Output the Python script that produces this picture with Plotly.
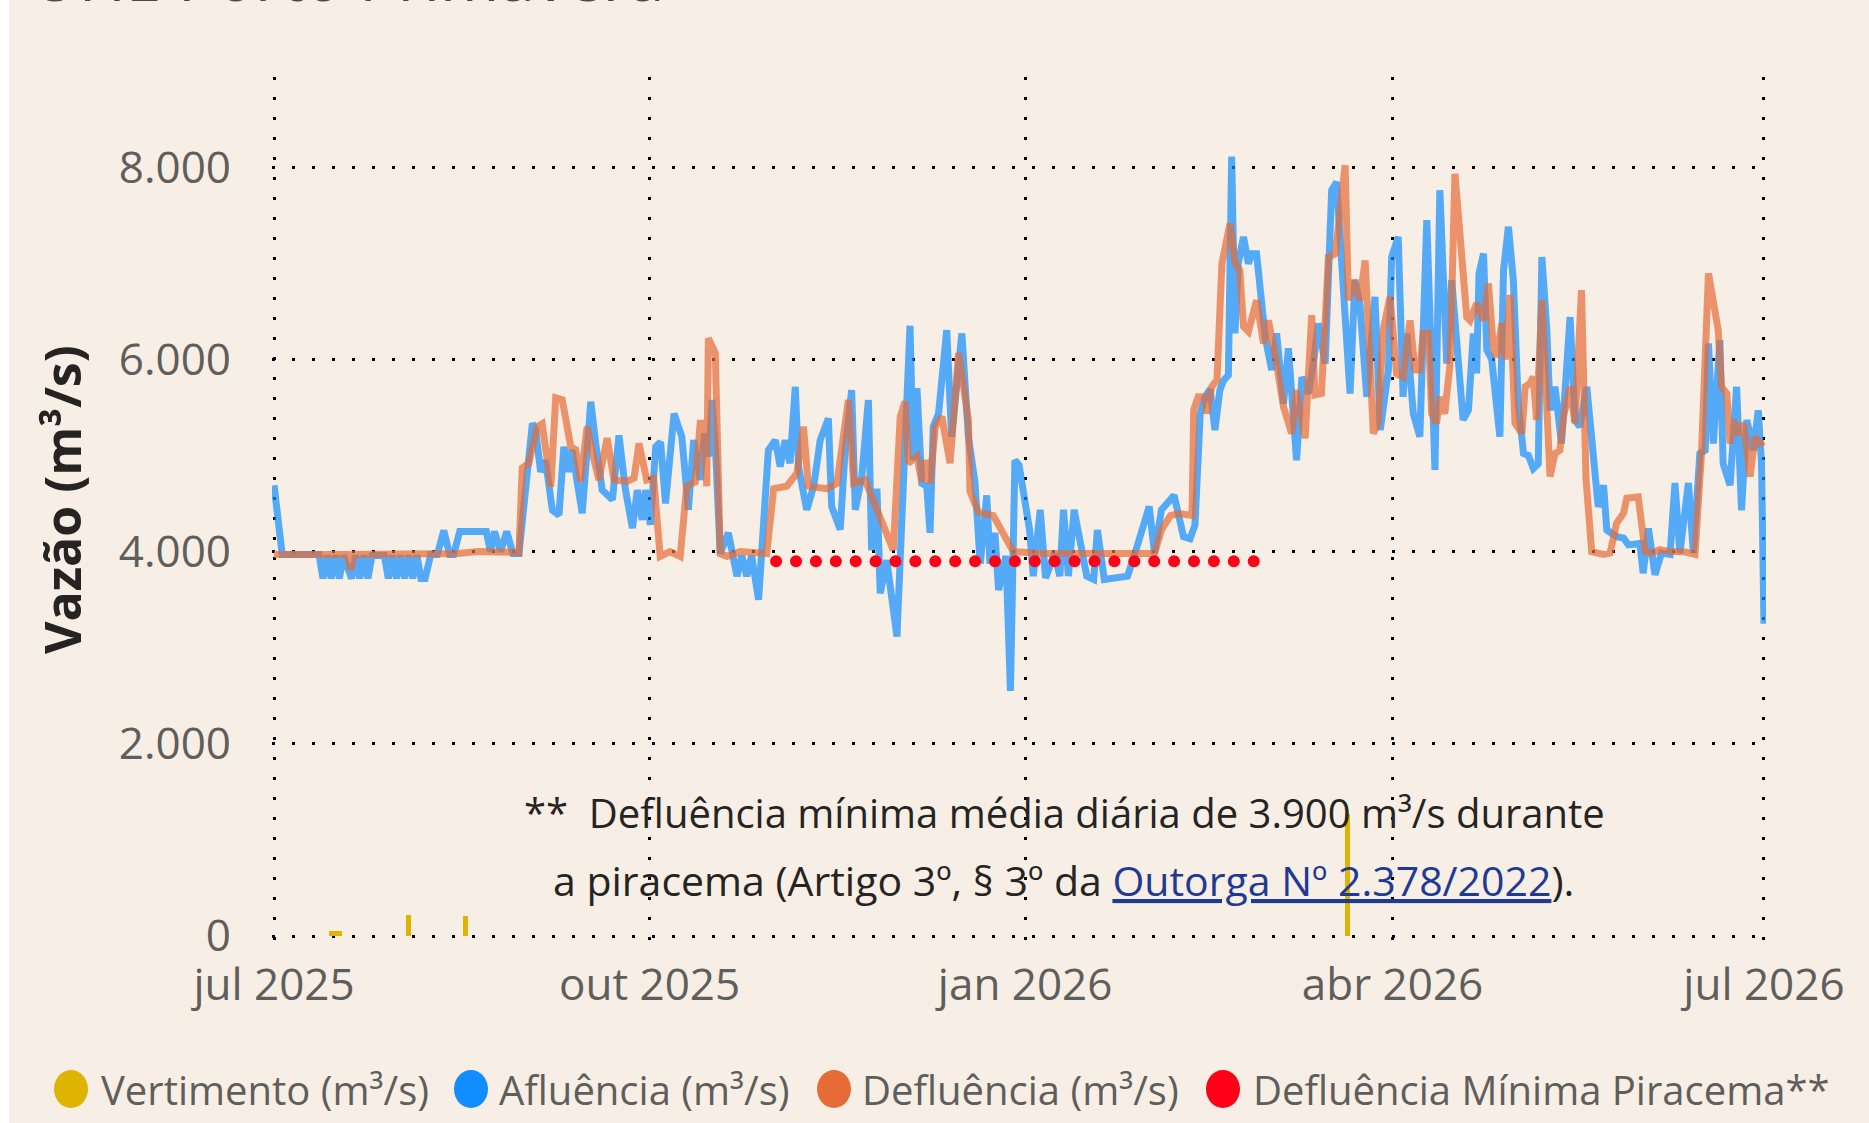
import pandas as pd
import plotly.graph_objects as go

# ---------------- data ----------------
START = "2025-07-01"          # day 0 of the series below

# Afluência (m3/s): day offset from START, value
afl_day = [0, 2, 11, 12, 13, 14, 15, 16, 17, 19, 20, 21, 22, 23, 24, 27, 28, 29, 30, 31,
           32, 33, 34, 35, 36, 37, 38.4, 40, 41.6, 43, 44, 45.5, 52, 53, 54, 55.5, 57, 58.5, 60,
           62, 63.3, 64.1, 65.3, 66.5, 68.2, 69.8, 71, 72.2, 73, 75.5, 77.6, 78.8, 80.4, 82.9,
           84.5, 86.1, 87.8, 89, 90.2, 91, 92.2, 93.5, 94.7, 95.9, 98, 99.9, 101.5, 102.8,
           104.4, 105.5, 106.5, 107.3, 108.2, 109.3, 111.3, 113.4, 114.6, 115.8, 117, 118.7,
           121.1, 122.8, 124, 125.2, 126.4, 127.7, 128.5, 130.5, 132.2, 133.8, 135.8, 136.6,
           138.7, 139.9, 141.5, 142.4, 144, 145.6, 146.4, 147.7, 148.5, 150.1, 152.6, 155.8,
           156.6, 157.5, 158.7, 159.9, 160.7, 161.5, 162.8, 164.8, 166, 168.5, 170.1, 171.7,
           173, 174.6, 175.4, 176.6, 177.5, 179.3, 180.4, 181.5, 182.5, 185.1, 186, 187.7,
           189, 191.2, 192.5, 193.4, 194.6, 196, 199.1, 200.8, 201.7, 203.4, 206.5, 209.1,
           210.9, 214.4, 215.7, 217.4, 220.5, 222.8, 224.4, 225.6, 226.9, 228.1, 229.3, 230.5,
           231.7, 232.6, 233.8, 234.6, 235.4, 236.2, 237.5, 238.7, 239.5, 240.7, 242.8, 244.4,
           245.6, 247.3, 248.5, 250.5, 251.8, 253.4, 254.6, 255.8, 257.5, 259.1, 260.3, 261.5,
           263.6, 264.8, 266, 267.7, 269.7, 271, 273, 273.8, 275.4, 276.6, 277.5, 279.1, 280.7,
           282.4, 284.4, 285.6, 287.3, 288.5, 291.3, 292.6, 293.8, 294.6, 295.2, 296.3, 297.1,
           298.3, 300.3, 301.2, 302.4, 303.6, 304.8, 306.1, 307.3, 308.5, 309.7, 310.6, 311.8,
           312.6, 313.8, 315.4, 317.5, 318.7, 319.9, 321.6, 323.2, 324.4, 325.7, 326.5, 328.9,
           330.6, 331.8, 333.4, 334.6, 335.4, 336.7, 338.3, 339.9, 342, 343.2, 344.4, 346.5,
           347.7, 349.3, 350.6, 351.4, 352.6, 354.2, 355, 356.7, 358.3, 359.5, 360.8, 362.4,
           363.6, 364.4, 365]
afl_val = [4690, 3970, 3970, 3720, 3960, 3720, 3960, 3720, 3960, 3720, 3960, 3720, 3960, 3720,
           3960, 3960, 3720, 3960, 3720, 3960, 3720, 3960, 3720, 3960, 3720, 3720, 3970, 3970,
           4220, 3970, 3970, 4210, 4210, 4000, 4210, 4000, 4210, 3980, 3980,
           4850, 5335, 5265, 4830, 4950, 4430, 4380, 5090, 4830, 5060, 4400, 5560, 5125, 4640,
           4540, 5210, 4640, 4245, 4640, 4330, 4640, 4280, 5090, 5140, 4500, 5435, 5195, 4435,
           5160, 4745, 5230, 4990, 5577, 5025, 3980, 4195, 3745, 3955, 3745, 3955, 3500,
           5055, 5160, 4885, 5160, 4920, 5715, 4880, 4435, 4680, 5160, 5385, 4470,
           4230, 5055, 5680, 4435, 4785, 5577, 4015, 4655, 3565, 3910, 3115, 6350,
           4950, 5700, 4710, 4680, 4195, 5300, 5440, 6305, 5195, 6270, 5195, 4725,
           3875, 4585, 3875, 4195, 3600, 3955, 2550, 4950, 4900, 4225, 3745, 4435,
           3725, 3980, 3745, 4435, 3745, 4435, 3745, 3710, 4225, 3710, 3725, 3745,
           3980, 4470, 3980, 4435, 4585, 4155, 4135, 4275, 5435, 5610, 5690, 5265,
           5680, 5780, 5835, 8110, 6270, 6995, 7275, 6995, 7100, 7100, 6235, 5890,
           6270, 5540, 6115, 4950, 5815, 5645, 5955, 6375, 5955, 7760, 7845, 7100,
           5645, 6825, 6580, 5610, 6650, 5265, 5890, 7065, 7275, 5610, 6270, 5435, 5195,
           7450, 4850, 7760, 5955, 6825, 5370, 5470, 6270, 5855, 6895, 7100, 6100,
           6000, 5195, 6930, 7380, 6825, 5540, 5020, 5000, 4865, 4915, 7065, 6305,
           5470, 5715, 5125, 6440, 5370, 5300, 5715, 5020, 4465, 4690, 4225, 4155,
           4140, 4070, 4085, 4085, 3775, 4240, 3760, 3985, 3970, 4715, 3985, 4715,
           3985, 5020, 5055, 6165, 5125, 6200, 4915, 4690, 5715, 4430, 5370, 5055,
           5470, 4915, 3250]

# Defluência (m3/s)
def_day = [0, 18, 18.8, 19.6, 45, 50, 60, 60.8, 62.4, 64.5, 65.7, 67.8, 69, 70.6, 72.7, 73.9,
           75.1, 76.7, 78.4, 79.6, 81.6, 83.3, 86.5, 88.2, 89.4, 91.3, 93, 94.6, 97, 99.5,
           101.1, 103.2, 104.4, 105.2, 106, 106.4, 108.1, 109.3, 111, 114.2, 120.7, 122.4,
           125.6, 128.1, 129.7, 130.9, 135.4, 137.9, 140.7, 142, 144.8, 151.7, 153.4, 154.6,
           155.4, 157.5, 158.7, 159.5, 160.7, 162, 163.6, 165.6, 167.7, 170.1, 170.5, 172.6,
           176.2, 181.1, 187.7, 215.7, 217.4, 219.6, 221.8, 224.9, 225.3, 226.4, 228, 228.5,
           229.7, 231, 232.2, 234.2, 235.4, 236.6, 237.5, 238.7, 240.7, 242.4, 243.6, 245.2,
           247.3, 249.3, 250.5, 252.6, 254.2, 255, 256.6, 258.3, 260, 262.4, 263.2, 264.4,
           266, 267.3, 269.3, 270.5, 271.7, 273.4, 275, 276.6, 278.3, 279.5, 280.7, 281.5,
           282.8, 283.6, 284.8, 285.6, 286.8, 288.1, 289.3, 291, 292.2, 293, 294.6, 296.3,
           297.5, 298.7, 299.5, 300.8, 301.6, 302.8, 304, 305.7, 306.5, 307.7, 308.5, 309.3,
           310.6, 312.6, 313.8, 315, 315.9, 317.5, 318.7, 320.3, 321.4, 322.8, 325.7, 327.3,
           328.9, 330.6, 331.4, 334.2, 335.9, 337.5, 339.5, 342, 345.2, 348.1, 349.7, 351.4,
           353.8, 354.6, 355.9, 356.7, 357.5, 358.7, 360, 361.6, 362.8, 364, 365]
def_val = [3970, 3970, 3810, 3970, 3980, 4000, 3990, 4870, 4920, 5300, 5330, 4675, 5600, 5580,
           5090, 5060, 4730, 5300, 4950, 4745, 5180, 4745, 4730, 4765, 5126, 4745, 4760, 3950,
           4000, 3950, 4680, 4725, 5335, 5335, 4680, 6220, 6065, 3980, 3950, 4000, 3980, 4655,
           4680, 4815, 5300, 4680, 4655, 4710, 5577, 4710, 4745, 4015, 5405, 5560,
           4920, 4990, 4725, 4950, 4710, 5300, 5405, 4920, 6065, 5370, 4625, 4410,
           4375, 4000, 3980, 3980, 4225, 4375, 4395, 4375, 5475, 5610, 5610, 5435,
           5715, 5785, 6995, 7415, 7010, 6925, 6340, 6290, 6615, 6165, 6405, 6060,
           5505, 5230, 5680, 5180, 6460, 5630, 5645, 7065, 7100, 8020, 6615, 6825,
           6615, 7030, 5230, 5335, 6305, 6650, 5850, 5815, 6405, 5890, 5890, 6270,
           6270, 5435, 5335, 5610, 5435, 5955, 7930, 7135, 6440, 6405, 6580, 6405,
           6790, 6130, 6025, 6375, 6000, 6670, 5335, 5230, 5715, 5750, 5820, 5370,
           6615, 4780, 5020, 5055, 5405, 5715, 5335, 6720, 4760, 4000, 3970, 3985,
           4295, 4400, 4555, 4570, 4000, 3985, 4020, 4000, 4000, 3970, 5020, 6895,
           6305, 5715, 5645, 5125, 5370, 5215, 5335, 4780, 5195, 5125, 5145]

# Vertimento (m3/s)
vert_dates = ["2025-07-15", "2025-07-16", "2025-07-17", "2025-08-03", "2025-08-17", "2026-03-21"]
vert_vals = [55, 55, 55, 215, 205, 1270]

# Defluência mínima na piracema (m3/s) - span of the dotted line as drawn
piracema_start = "2025-11-01"
piracema_end = "2026-02-26"
piracema_min = 3900

tick_dates = ["2025-07-01", "2025-10-01", "2026-01-01", "2026-04-01", "2026-07-01"]
tick_text = ["jul 2025", "out 2025", "jan 2026", "abr 2026", "jul 2026"]
y_ticks = [0, 2000, 4000, 6000, 8000]

# ---------------- figure ----------------
BG = "#F7EFE5"
GRAY = "#605E5C"
DARK = "#252423"
FONT = "Open Sans"

start = pd.Timestamp(START)
afl_x = start + pd.to_timedelta(afl_day, unit="D")
def_x = start + pd.to_timedelta(def_day, unit="D")
pir_x = pd.date_range(piracema_start, piracema_end, periods=25)  # dotted-line rendering
pir_y = [piracema_min] * len(pir_x)

fig = go.Figure()
fig.add_trace(go.Bar(x=pd.to_datetime(vert_dates), y=vert_vals, name="Vertimento (m³/s)",
                     marker=dict(color="#DFB400", line=dict(width=0)),
                     width=1.25 * 86400000))
fig.add_trace(go.Scatter(x=afl_x, y=afl_val, mode="lines", name="Afluência (m³/s)",
                         line=dict(color="#118DFF", width=7), opacity=0.7))
fig.add_trace(go.Scatter(x=def_x, y=def_val, mode="lines", name="Defluência (m³/s)",
                         line=dict(color="#E66C37", width=7), opacity=0.7))
fig.add_trace(go.Scatter(x=pir_x, y=pir_y, mode="markers",
                         name="Defluência Mínima Piracema**",
                         marker=dict(color="#FF0018", size=12, line=dict(width=0))))

W, H = 1869, 1123
L, R, T, B = 272, 103, 77, 181
PW, PH = W - L - R, H - T - B


def px(xp):
    """page x pixel -> paper x"""
    return (xp - L) / PW


def py(yp):
    """page y pixel -> paper y"""
    return (H - B - yp) / PH


fig.update_layout(
    width=W, height=H,
    margin=dict(l=L, r=R, t=T, b=B, autoexpand=False),
    paper_bgcolor=BG, plot_bgcolor=BG,
    showlegend=False,
    separators=",.",
    font=dict(family=FONT, color=GRAY),
    bargap=0,
)
fig.update_xaxes(
    type="date", range=["2025-06-30 12:00", "2026-07-01 12:00"],
    tickvals=tick_dates, ticktext=tick_text, ticks="",
    showgrid=True, gridcolor="black", gridwidth=3, griddash="3px,17px",
    zeroline=False, showline=False, automargin=False,
    tickfont=dict(family=FONT, size=44, color=GRAY), ticklabelstandoff=13,
)
fig.update_yaxes(
    range=[-62, 8938], tickvals=y_ticks, tickformat=",.0f", ticks="",
    showgrid=True, gridcolor="black", gridwidth=3, griddash="3px,17px",
    zeroline=False, showline=False, automargin=False,
    tickfont=dict(family=FONT, size=44, color=GRAY), ticklabelstandoff=40,
)

ann = []
# cropped chart title at the very top
ann.append(dict(text="UHE Porto Primavera", xref="paper", yref="paper", x=px(30), y=py(22),
                xanchor="left", yanchor="bottom", showarrow=False,
                font=dict(family=FONT, size=64, color="#4A4948")))
# y-axis title
ann.append(dict(text="<b>Vazão (m³/s)</b>", xref="paper", yref="paper", x=px(62), y=py(500),
                textangle=-90, xanchor="center", yanchor="middle", showarrow=False,
                font=dict(family=FONT, size=50, color=DARK)))
# footnote
ann.append(dict(text="**\u00a0 Defluência mínima média diária de 3.900 m³/s durante",
                xref="paper", yref="paper", x=px(1064), y=py(812), xanchor="center",
                yanchor="middle", showarrow=False, font=dict(family=FONT, size=40, color=DARK)))
ann.append(dict(text="a piracema (Artigo 3º, § 3º da "
                     "<a href='https://www.gov.br/ana' style='color:#1F3A93'>"
                     "<span style='text-decoration:underline'>Outorga Nº 2.378/2022</span></a>).",
                xref="paper", yref="paper", x=px(1063), y=py(880), xanchor="center",
                yanchor="middle", showarrow=False, font=dict(family=FONT, size=41, color=DARK)))

# custom legend
leg_items = [("Vertimento (m³/s)", "#DFB400", 71, 99),
             ("Afluência (m³/s)", "#118DFF", 471, 497),
             ("Defluência (m³/s)", "#E66C37", 834, 860),
             ("Defluência Mínima Piracema**", "#FF0018", 1223, 1251)]
shapes = []
LEG_Y = 1089
for label, col, cx, tx in leg_items:
    shapes.append(dict(type="circle", xref="paper", yref="paper", xsizemode="pixel",
                       ysizemode="pixel", xanchor=px(cx), yanchor=py(LEG_Y),
                       x0=-17, x1=17, y0=-19, y1=19, fillcolor=col, line=dict(width=0)))
    ann.append(dict(text=label, xref="paper", yref="paper", x=px(tx), y=py(LEG_Y),
                    xanchor="left", yanchor="middle", showarrow=False,
                    font=dict(family=FONT, size=40, color=GRAY)))
# thin white strip at the left edge of the visual
shapes.append(dict(type="rect", xref="paper", yref="paper", xsizemode="pixel",
                   ysizemode="pixel", xanchor=0, yanchor=0, x0=-L, x1=-L + 9,
                   y0=-B - 10, y1=PH + T + 10, fillcolor="white", line=dict(width=0)))

fig.update_layout(annotations=ann, shapes=shapes)
fig.write_html("out.html", config={"displayModeBar": False},
               post_script="document.body.style.margin='0';")
